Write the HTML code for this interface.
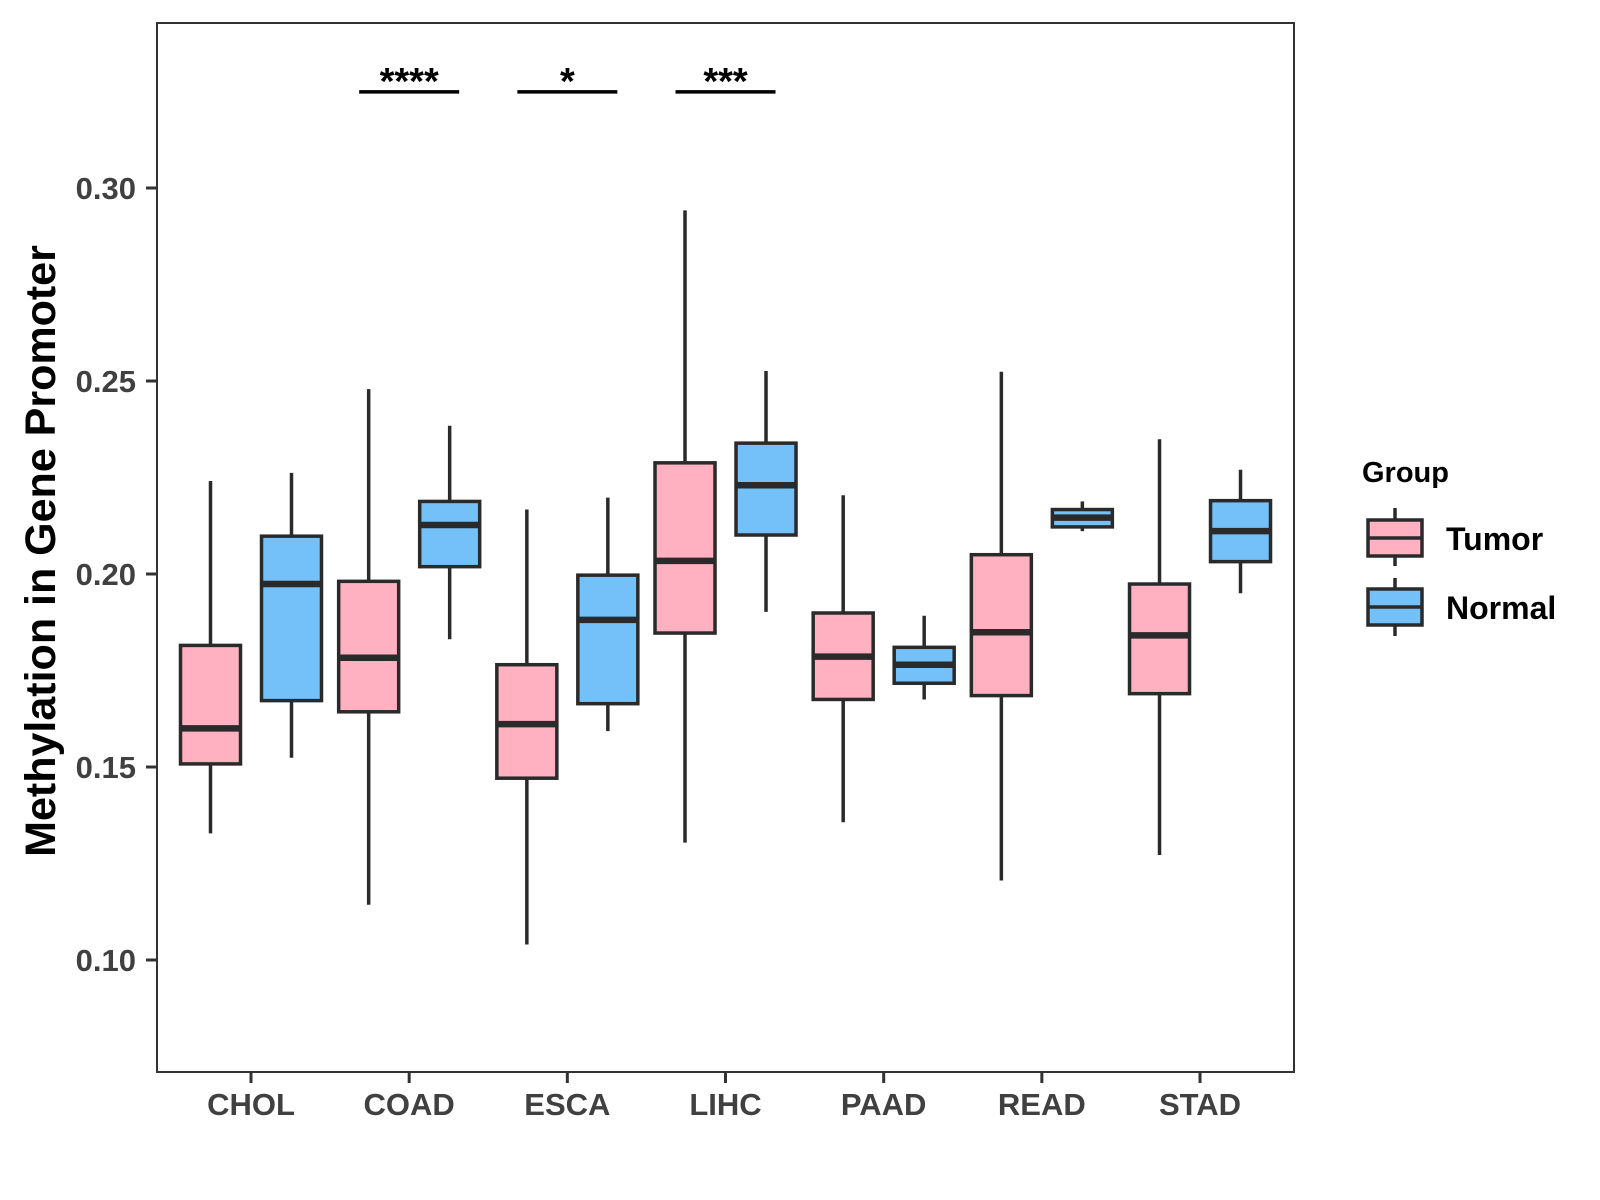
<!DOCTYPE html>
<html><head><meta charset="utf-8"><style>
html,body{margin:0;padding:0;background:#fff}
svg{display:block;font-family:"Liberation Sans",Arial,sans-serif;font-weight:bold}
</style></head><body>
<svg id="chart" width="1600" height="1200" viewBox="0 0 1600 1200">
<rect x="157" y="23" width="1137" height="1049" fill="#fff" stroke="#333" stroke-width="2"/>
<g id="boxes"></g>
<g id="axes"></g>
<text transform="translate(55,551) rotate(-90)" text-anchor="middle" font-size="43" fill="#000">Methylation in Gene Promoter</text>
<g>
<text x="1362" y="482" font-size="29" fill="#000">Group</text>
<g>
<line x1="1395" y1="508" x2="1395" y2="566" stroke="#2a2a2a" stroke-width="3.5"/>
<rect x="1368" y="520" width="54" height="36" fill="#FFB1C1" stroke="#2a2a2a" stroke-width="3.5"/>
<line x1="1368" y1="538" x2="1422" y2="538" stroke="#2a2a2a" stroke-width="3.5"/>
<text x="1446" y="550" font-size="32" fill="#000">Tumor</text>
</g>
<g>
<line x1="1395" y1="578" x2="1395" y2="636" stroke="#2a2a2a" stroke-width="3.5"/>
<rect x="1368" y="589" width="54" height="36" fill="#74C0F8" stroke="#2a2a2a" stroke-width="3.5"/>
<line x1="1368" y1="607" x2="1422" y2="607" stroke="#2a2a2a" stroke-width="3.5"/>
<text x="1446" y="619" font-size="32" fill="#000">Normal</text>
</g>
</g>
</svg>
<script>
const categories = ["CHOL","COAD","ESCA","LIHC","PAAD","READ","STAD"];
// [lower whisker, Q1, median, Q3, upper whisker]
const tumorStats = [
 [0.1328,0.1508,0.1600,0.1815,0.2241],
 [0.1143,0.1643,0.1783,0.1981,0.2479],
 [0.1040,0.1471,0.1611,0.1765,0.2167],
 [0.1304,0.1847,0.2034,0.2288,0.2942],
 [0.1357,0.1675,0.1786,0.1899,0.2204],
 [0.1206,0.1685,0.1849,0.2050,0.2524],
 [0.1272,0.1690,0.1841,0.1974,0.2349]
];
const normalStats = [
 [0.1524,0.1672,0.1974,0.2098,0.2262],
 [0.1831,0.2019,0.2127,0.2188,0.2384],
 [0.1593,0.1664,0.1881,0.1997,0.2198],
 [0.1902,0.2101,0.2230,0.2339,0.2526],
 [0.1675,0.1717,0.1765,0.1810,0.1892],
 [0.2111,0.2122,0.2146,0.2167,0.2188],
 [0.1950,0.2032,0.2111,0.2190,0.2270]
];
const yTicks = [0.10,0.15,0.20,0.25,0.30];
const yTickLabels = ["0.10","0.15","0.20","0.25","0.30"];
const sigCategories = ["COAD","ESCA","LIHC"];
const sigLabels = ["****","*","***"];
const sigLevel = 0.3249;

const NS="http://www.w3.org/2000/svg";
const yScale = v => 767 - (v-0.15)*(193/0.05);
const xScale = i => 251 + i*158.17;
function mk(tag, attrs, parent){const e=document.createElementNS(NS,tag);for(const k in attrs)e.setAttribute(k,attrs[k]);parent.appendChild(e);return e;}
const boxes=document.getElementById('boxes'), axes=document.getElementById('axes');
const OUT="#2a2a2a", HW=30, OFF=40.5;
function drawBox(cx, s, fill, name){
  const g=mk('g',{},boxes);
  
  
  mk('line',{x1:cx,x2:cx,y1:yScale(s[0]),y2:yScale(s[4]),stroke:OUT,'stroke-width':3.5},g);
  mk('rect',{x:cx-HW,y:yScale(s[3]),width:2*HW,height:yScale(s[1])-yScale(s[3]),fill:fill,stroke:OUT,'stroke-width':3.5},g);
  mk('line',{x1:cx-HW,x2:cx+HW,y1:yScale(s[2]),y2:yScale(s[2]),stroke:OUT,'stroke-width':6.5},g);
}
categories.forEach((c,i)=>{
  drawBox(xScale(i)-OFF, tumorStats[i], "#FFB1C1", 'box-tumor-'+c.toLowerCase());
  drawBox(xScale(i)+OFF, normalStats[i], "#74C0F8", 'box-normal-'+c.toLowerCase());
  const t=mk('line',{x1:xScale(i),x2:xScale(i),y1:1072,y2:1083,stroke:"#333",'stroke-width':3},axes);
  
  
  const l=mk('text',{x:xScale(i),y:1115,'text-anchor':'middle','font-size':31,fill:'#404040'},axes);
  l.textContent=c;
  
  
});
yTicks.forEach((v,i)=>{
  const t=mk('line',{x1:146,x2:157,y1:yScale(v),y2:yScale(v),stroke:"#333",'stroke-width':3},axes);
  
  
  const l=mk('text',{x:136,y:yScale(v)+11,'text-anchor':'end','font-size':31,fill:'#404040'},axes);
  l.textContent=yTickLabels[i];
  
  
});
sigCategories.forEach((c,k)=>{
  const i=categories.indexOf(c), cx=xScale(i), y=yScale(sigLevel);
  const b=mk('line',{x1:cx-50,x2:cx+50,y1:y,y2:y,stroke:"#000",'stroke-width':3.5},axes);
  
  
  const t=mk('text',{x:cx,y:y+2,'text-anchor':'middle','font-size':38,fill:'#000'},axes);
  t.textContent=sigLabels[k];
  
  
});
</script>
</body></html>
